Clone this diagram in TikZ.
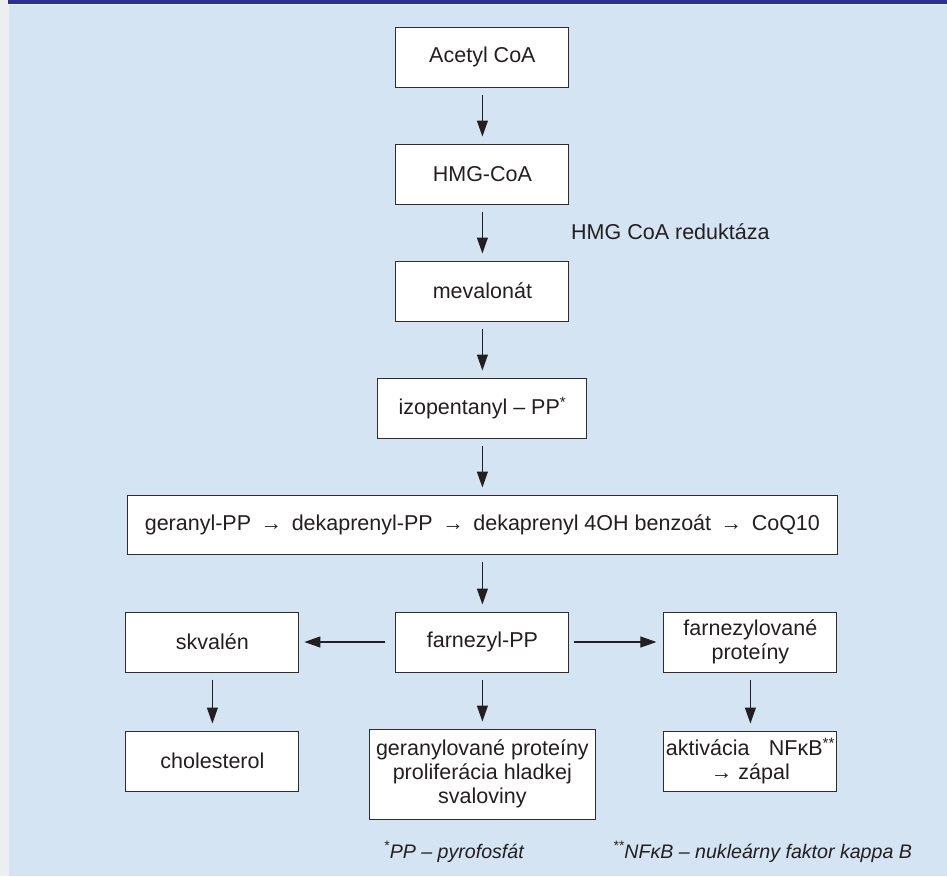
\documentclass[tikz,border=0pt]{standalone}
\usepackage{fontspec}
\setmainfont{Liberation Sans}
\usepackage{tikz}
\usepackage{xcolor}
\usetikzlibrary{arrows.meta, positioning}
\definecolor{panelblue}{RGB}{212,228,243}
\definecolor{barblue}{RGB}{45,48,140}
\definecolor{edgegray}{RGB}{236,238,240}
\definecolor{ink}{RGB}{35,31,32}
\definecolor{boxline}{RGB}{45,45,45}
\newcommand{\boxtxt}{\fontsize{21.5}{24}\selectfont}
\newcommand{\fntxt}{\fontsize{19.6}{24}\selectfont\itshape}

\begin{document}
\begin{tikzpicture}[
        x=1pt, y=-1pt,
        node distance=56pt and 95pt,
        box/.style={rectangle, draw=boxline, line width=1pt, fill=white, text=ink,
                    minimum width=173pt, minimum height=60pt, inner sep=2pt,
                    align=center, font=\boxtxt},
        flow/.style={-{Triangle[length=16pt,width=11pt]}, line width=1.1pt, draw=ink,
                     shorten <=7pt, shorten >=7pt},
        note/.style={font=\fntxt, text=ink, inner sep=0pt},
    ]
    % pozadie
    \useasboundingbox (0,0) rectangle (947,876);
    \fill[edgegray] (0,0) rectangle (947,876);
    \fill[panelblue] (9,5) rectangle (947,876);
    \fill[barblue] (8,0) rectangle (947,4);

    % hlavna vetva
    \node[box] (acetyl) at (482.4,57) {Acetyl CoA};
    \node[box, below=of acetyl] (hmg) {HMG-CoA};
    \node[box, below=of hmg] (meva) {mevalonát};
    \node[box, below=of meva, minimum width=209pt] (izo) {izopentanyl -- PP\textsuperscript{*}};
    \node[box, below=of izo, minimum width=710pt, minimum height=59pt] (geranyl)
        {geranyl-PP\, →\, dekaprenyl-PP\, →\, dekaprenyl 4OH benzoát\, →\, CoQ10};
    \node[box, below=57pt of geranyl] (farnezyl) {farnezyl-PP};

    % vetvenie
    \node[box, left=96pt of farnezyl] (skvalen) {skvalén};
    \node[box, right=94pt of farnezyl] (farnprot) {farnezylované\\proteíny};
    \node[box, below=58pt of skvalen] (chol) {cholesterol};
    \node[box, below=56pt of farnezyl, minimum width=226pt, minimum height=90pt] (gerprot)
        {geranylované proteíny\\proliferácia hladkej\\svaloviny};
    \node[box, below=58pt of farnprot] (nfkb) {aktivácia\hspace{0.9em}NFκB\textsuperscript{**}\\→\ zápal};

    % enzym
    \node[note, font=\boxtxt, anchor=west] (enzym) at (571,232) {HMG CoA reduktáza};

    % sipky
    \draw[flow] (acetyl) -- (hmg);
    \draw[flow] (hmg) -- (meva);
    \draw[flow] (meva) -- (izo);
    \draw[flow] (izo) -- (geranyl);
    \draw[flow] (geranyl) -- (farnezyl);
    \draw[flow, shorten <=10pt, shorten >=5pt] (farnezyl) -- (skvalen);
    \draw[flow, shorten <=5pt] (farnezyl) -- (farnprot);
    \draw[flow] (skvalen) -- (chol);
    \draw[flow] (farnezyl) -- (gerprot);
    \draw[flow] (farnprot) -- (nfkb);

    % poznamky
    \node[note, anchor=east] (fnpp) at (524,852) {\textsuperscript{*}PP -- pyrofosfát};
    \node[note, anchor=west] (fnnf) at (613,852) {\textsuperscript{**}NFκB -- nukleárny faktor kappa B};
\end{tikzpicture}
\end{document}
